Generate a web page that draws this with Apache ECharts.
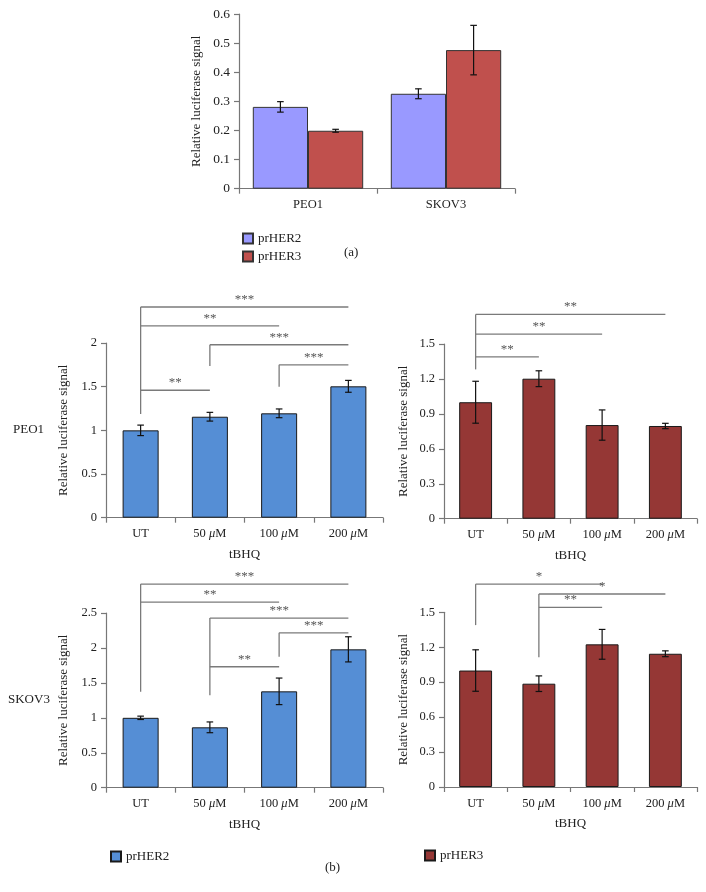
<!DOCTYPE html>
<html><head><meta charset="utf-8">
<script src="https://cdn.jsdelivr.net/npm/echarts@6/dist/echarts.min.js"></script>
<style>html,body{margin:0;padding:0;background:#fff}#c{width:706px;height:892px}</style>
</head><body><div id="c"></div>
<script>
// ---- data ----
const cellLines = ['PEO1', 'SKOV3'];
const her2A = [0.281, 0.326];
const her2AErr = [0.018, 0.017];
const her3A = [0.199, 0.476];
const her3AErr = [0.005, 0.085];

const doses = ['UT', '50 μM', '100 μM', '200 μM'];
const peo1Her2 = [1.0, 1.156, 1.195, 1.504];
const peo1Her2Err = [0.06, 0.05, 0.05, 0.068];
const peo1Her3 = [1.0, 1.202, 0.804, 0.796];
const peo1Her3Err = [0.18, 0.068, 0.13, 0.023];
const skov3Her2 = [1.0, 0.864, 1.379, 1.98];
const skov3Her2Err = [0.024, 0.077, 0.19, 0.18];
const skov3Her3 = [1.0, 0.887, 1.225, 1.144];
const skov3Her3Err = [0.178, 0.067, 0.128, 0.025];

// significance brackets: [fromIdx, toIdx, level, label]; drops: [idx, top, bottom]
const peo1Her2Sig = [[0,3,2.412,'***'],[0,2,2.195,'**'],[1,3,1.98,'***'],[2,3,1.75,'***'],[0,1,1.459,'**']];
const peo1Her2Drop = [[0,2.412,1.187],[1,1.98,1.737],[2,1.75,1.50]];
const peo1Her3Sig = [[0,3,1.754,'**'],[0,2,1.585,'**'],[0,1,1.39,'**']];
const peo1Her3Drop = [[0,1.754,1.282]];
const skov3Her2Sig = [[0,3,2.914,'***'],[0,2,2.657,'**'],[1,3,2.428,'***'],[2,3,2.217,'***'],[1,2,1.731,'**']];
const skov3Her2Drop = [[0,2.914,1.373],[1,2.428,1.322],[2,2.217,1.874]];
const skov3Her3Sig = [[0,2,1.742,'*'],[1,3,1.657,'*'],[1,2,1.543,'**']];
const skov3Her3Drop = [[0,1.742,1.39],[1,1.657,1.113]];

// ---- style ----
const FONT = '"Liberation Serif", "DejaVu Serif", serif';
const AX = '#777';
const BLUE_A = '#9999FF', RED_A = '#C0504D', BLUE_B = '#558ED5', RED_B = '#953735';

const grids = [
  {left: 239, top: 14, width: 276, height: 174.7},
  {left: 106, top: 343, width: 277, height: 174.7},
  {left: 444, top: 344, width: 253, height: 174.7},
  {left: 106, top: 613, width: 277, height: 174.7},
  {left: 444, top: 612.3, width: 253, height: 174.7}
];
const yCfg = [[0.6, 0.1], [2, 0.5], [1.5, 0.3], [2.5, 0.5], [1.5, 0.3]];

function xAxis(gi, cats, isA) {
  return {
    type: 'category', gridIndex: gi, data: cats,
    axisLine: {lineStyle: {color: AX, width: 1.2}},
    axisTick: {show: true, length: 5, lineStyle: {color: AX, width: 1.2}},
    axisLabel: {
      interval: 0, margin: 10, color: '#222', fontFamily: FONT, fontSize: isA ? 12.5 : 12.5,
      formatter: v => v.replace('μ', '{i|μ}'),
      rich: {i: {fontStyle: 'italic', fontFamily: FONT, fontSize: 12.5, color: '#222'}}
    },
    name: isA ? '' : 'tBHQ', nameLocation: 'middle', nameGap: 30,
    nameTextStyle: {color: '#222', fontFamily: FONT, fontSize: 13}
  };
}
function yAxis(gi, gap) {
  const [max, interval] = yCfg[gi];
  return {
    type: 'value', gridIndex: gi, min: 0, max: max, interval: interval,
    axisLine: {show: true, lineStyle: {color: AX, width: 1.2}},
    axisTick: {show: true, length: 5, lineStyle: {color: AX, width: 1.2}},
    splitLine: {show: false},
    axisLabel: {margin: 9, color: '#222', fontFamily: FONT, fontSize: gi === 0 ? 13.5 : 12.5,
      formatter: v => String(Math.round(v * 10) / 10)},
    name: 'Relative luciferase signal', nameLocation: 'middle', nameGap: gap,
    nameTextStyle: {color: '#222', fontFamily: FONT, fontSize: 13}
  };
}

function errSeries(gi, vals, errs, offFrac) {
  return {
    type: 'custom', xAxisIndex: gi, yAxisIndex: gi, z: 10, silent: true, clip: false,
    data: vals.map((v, i) => [i, v - errs[i], v + errs[i]]),
    encode: {x: 0, y: [1, 2]},
    renderItem(params, api) {
      const i = api.value(0);
      const lo = api.coord([i, api.value(1)]);
      const hi = api.coord([i, api.value(2)]);
      const bw = api.size([1, 0])[0];
      const x = lo[0] + bw * offFrac, c = 3.3;
      const st = {stroke: '#111', lineWidth: 1.2};
      return {type: 'group', children: [
        {type: 'line', shape: {x1: x, y1: lo[1], x2: x, y2: hi[1]}, style: st},
        {type: 'line', shape: {x1: x - c, y1: lo[1], x2: x + c, y2: lo[1]}, style: st},
        {type: 'line', shape: {x1: x - c, y1: hi[1], x2: x + c, y2: hi[1]}, style: st}
      ]};
    }
  };
}
function sigSeries(gi, sig, drop) {
  const ls = {stroke: '#7a7a7a', lineWidth: 1.3};
  return [{
    type: 'custom', xAxisIndex: gi, yAxisIndex: gi, z: 5, silent: true, clip: false,
    data: sig.map(b => [b[0], b[1], b[2]]),
    encode: {x: [0, 1], y: 2},
    renderItem(params, api) {
      const p1 = api.coord([api.value(0), api.value(2)]);
      const p2 = api.coord([api.value(1), api.value(2)]);
      return {type: 'group', children: [
        {type: 'line', shape: {x1: p1[0], y1: p1[1], x2: p2[0], y2: p2[1]}, style: ls},
        {type: 'text', style: {text: sig[params.dataIndex][3], x: (p1[0] + p2[0]) / 2, y: p1[1] - 1,
          textAlign: 'center', textVerticalAlign: 'bottom', fill: '#555', font: '13px ' + FONT}}
      ]};
    }
  }, {
    type: 'custom', xAxisIndex: gi, yAxisIndex: gi, z: 5, silent: true, clip: false,
    data: drop.map(d => [d[0], d[1], d[2]]),
    encode: {x: 0, y: [1, 2]},
    renderItem(params, api) {
      const a = api.coord([api.value(0), api.value(1)]);
      const b = api.coord([api.value(0), api.value(2)]);
      return {type: 'line', shape: {x1: a[0], y1: a[1], x2: b[0], y2: b[1]}, style: ls};
    }
  }];
}
function barB(gi, name, vals, color) {
  return {type: 'bar', name: name, xAxisIndex: gi, yAxisIndex: gi, data: vals, barWidth: '52%',
    itemStyle: {color: color, borderColor: '#1a1a1a', borderWidth: 1}, silent: true};
}

const legendText = {color: '#222', fontFamily: FONT, fontSize: 13};
const option = {
  animation: false,
  backgroundColor: '#fff',
  grid: grids,
  xAxis: [xAxis(0, cellLines, true), xAxis(1, doses), xAxis(2, doses), xAxis(3, doses), xAxis(4, doses)],
  yAxis: [yAxis(0, 36), yAxis(1, 36), yAxis(2, 34), yAxis(3, 36), yAxis(4, 34)],
  legend: [
    {left: 237, top: 227, orient: 'vertical', data: ['prHER2', 'prHER3'], icon: 'rect',
      itemWidth: 10, itemHeight: 10, itemGap: 5, textStyle: legendText, selectedMode: false},
    {left: 105, top: 845, data: ['prHER2 (b)'], icon: 'rect', itemWidth: 10, itemHeight: 10,
      textStyle: legendText, selectedMode: false, formatter: n => n.replace(' (b)', '')},
    {left: 419, top: 844, data: ['prHER3 (b)'], icon: 'rect', itemWidth: 10, itemHeight: 10,
      textStyle: legendText, selectedMode: false, formatter: n => n.replace(' (b)', '')}
  ],
  series: [
    {type: 'bar', name: 'prHER2', xAxisIndex: 0, yAxisIndex: 0, data: her2A, barGap: '0%', barCategoryGap: '20%',
      itemStyle: {color: BLUE_A, borderColor: '#333', borderWidth: 1}, silent: true},
    {type: 'bar', name: 'prHER3', xAxisIndex: 0, yAxisIndex: 0, data: her3A, barGap: '0%', barCategoryGap: '20%',
      itemStyle: {color: RED_A, borderColor: '#333', borderWidth: 1}, silent: true},
    errSeries(0, her2A, her2AErr, -0.2),
    errSeries(0, her3A, her3AErr, 0.2),
    barB(1, 'prHER2 (b)', peo1Her2, BLUE_B),
    barB(2, 'prHER3 (b)', peo1Her3, RED_B),
    barB(3, 'prHER2 (b)', skov3Her2, BLUE_B),
    barB(4, 'prHER3 (b)', skov3Her3, RED_B),
    errSeries(1, peo1Her2, peo1Her2Err, 0),
    errSeries(2, peo1Her3, peo1Her3Err, 0),
    errSeries(3, skov3Her2, skov3Her2Err, 0),
    errSeries(4, skov3Her3, skov3Her3Err, 0),
    ...sigSeries(1, peo1Her2Sig, peo1Her2Drop),
    ...sigSeries(2, peo1Her3Sig, peo1Her3Drop),
    ...sigSeries(3, skov3Her2Sig, skov3Her2Drop),
    ...sigSeries(4, skov3Her3Sig, skov3Her3Drop)
  ],
  graphic: [
    {type: 'text', left: 344, top: 246, style: {text: '(a)', fill: '#222', font: '13px ' + FONT}},
    {type: 'text', left: 325, top: 861, style: {text: '(b)', fill: '#222', font: '13px ' + FONT}},
    {type: 'text', left: 13, top: 423, style: {text: 'PEO1', fill: '#222', font: '13px ' + FONT}},
    {type: 'text', left: 8, top: 693, style: {text: 'SKOV3', fill: '#222', font: '13px ' + FONT}}
  ]
};
const chart = echarts.init(document.getElementById('c'), null, {renderer: 'canvas'});
chart.setOption(option);
</script>
</body></html>
